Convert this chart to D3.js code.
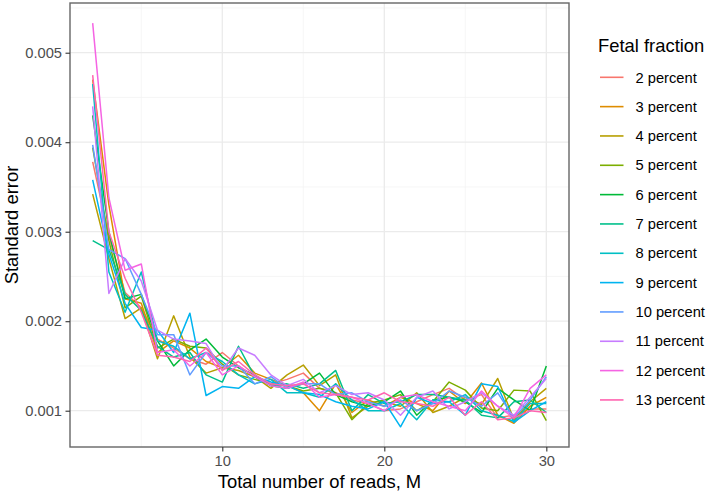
<!DOCTYPE html>
<html><head><meta charset="utf-8">
<script src="https://cdn.jsdelivr.net/npm/d3@7"></script>
<style>body{margin:0;background:#fff;}svg{display:block;font-family:"Liberation Sans",Arial,sans-serif;}</style>
</head><body><svg id="chart" width="709" height="494"></svg>
<script>
const xValues = [2,3,4,5,6,7,8,9,10,11,12,13,14,15,16,17,18,19,20,21,22,23,24,25,26,27,28,29,30];
const seriesNames = ["2 percent","3 percent","4 percent","5 percent","6 percent","7 percent","8 percent","9 percent","10 percent","11 percent","12 percent","13 percent"];
const seriesColors = ["#F8766D","#DE8C00","#B79F00","#7CAE00","#00BA38","#00C08B","#00BFC4","#00B4F0","#619CFF","#C77CFF","#F564E3","#FF64B0"];
const s2  = [0.00378,0.00295,0.00232,0.00215,0.00180,0.00170,0.00158,0.00152,0.00165,0.00150,0.00138,0.00130,0.00135,0.00142,0.00125,0.00120,0.00112,0.00108,0.00100,0.00102,0.00110,0.00118,0.00125,0.00112,0.00118,0.00092,0.00095,0.00102,0.00102];
const s3  = [0.00470,0.00330,0.00225,0.00220,0.00165,0.00178,0.00170,0.00155,0.00148,0.00162,0.00142,0.00135,0.00128,0.00120,0.00100,0.00130,0.00098,0.00112,0.00105,0.00115,0.00108,0.00100,0.00122,0.00108,0.00131,0.00095,0.00086,0.00105,0.00115];
const s4  = [0.00342,0.00270,0.00203,0.00215,0.00158,0.00206,0.00160,0.00142,0.00148,0.00145,0.00138,0.00125,0.00140,0.00151,0.00128,0.00140,0.00092,0.00105,0.00110,0.00105,0.00120,0.00098,0.00105,0.00115,0.00107,0.00136,0.00090,0.00110,0.00125];
const s5  = [0.00394,0.00290,0.00215,0.00228,0.00170,0.00180,0.00172,0.00170,0.00152,0.00140,0.00135,0.00130,0.00128,0.00122,0.00125,0.00120,0.00090,0.00108,0.00112,0.00118,0.00100,0.00110,0.00132,0.00123,0.00103,0.00100,0.00123,0.00122,0.00089];
const s6  = [0.00430,0.00300,0.00225,0.00230,0.00178,0.00150,0.00168,0.00180,0.00160,0.00148,0.00140,0.00128,0.00125,0.00130,0.00142,0.00118,0.00110,0.00105,0.00110,0.00122,0.00095,0.00112,0.00115,0.00110,0.00098,0.00125,0.00112,0.00100,0.00150];
const s7  = [0.00290,0.00280,0.00230,0.00212,0.00172,0.00160,0.00165,0.00140,0.00132,0.00172,0.00138,0.00128,0.00130,0.00125,0.00130,0.00145,0.00100,0.00118,0.00108,0.00110,0.00118,0.00118,0.00115,0.00112,0.00095,0.00092,0.00110,0.00112,0.00098];
const s8  = [0.00465,0.00255,0.00210,0.00255,0.00178,0.00172,0.00158,0.00165,0.00155,0.00140,0.00130,0.00135,0.00120,0.00120,0.00115,0.00130,0.00112,0.00100,0.00100,0.00108,0.00090,0.00112,0.00110,0.00118,0.00100,0.00095,0.00088,0.00108,0.00108];
const s9  = [0.00358,0.00275,0.00220,0.00193,0.00190,0.00165,0.00209,0.00117,0.00127,0.00125,0.00138,0.00132,0.00128,0.00120,0.00118,0.00110,0.00105,0.00102,0.00110,0.00082,0.00115,0.00108,0.00110,0.00095,0.00130,0.00127,0.00087,0.00100,0.00110];
const s10 = [0.00397,0.00280,0.00270,0.00230,0.00185,0.00185,0.00140,0.00165,0.00150,0.00150,0.00130,0.00138,0.00125,0.00130,0.00130,0.00118,0.00120,0.00110,0.00105,0.00112,0.00100,0.00108,0.00122,0.00115,0.00105,0.00120,0.00092,0.00112,0.00138];
const s11 = [0.00440,0.00231,0.00270,0.00245,0.00190,0.00180,0.00178,0.00175,0.00145,0.00170,0.00162,0.00140,0.00128,0.00135,0.00120,0.00128,0.00118,0.00120,0.00112,0.00095,0.00115,0.00122,0.00102,0.00110,0.00120,0.00105,0.00095,0.00115,0.00136];
const s12 = [0.00533,0.00338,0.00257,0.00264,0.00165,0.00168,0.00150,0.00165,0.00140,0.00150,0.00138,0.00128,0.00125,0.00132,0.00115,0.00118,0.00115,0.00108,0.00100,0.00115,0.00118,0.00110,0.00105,0.00100,0.00122,0.00105,0.00092,0.00125,0.00140];
const s13 = [0.00475,0.00300,0.00248,0.00210,0.00162,0.00160,0.00155,0.00170,0.00145,0.00155,0.00140,0.00130,0.00128,0.00130,0.00120,0.00118,0.00115,0.00112,0.00120,0.00110,0.00108,0.00105,0.00115,0.00095,0.00110,0.00090,0.00092,0.00100,0.00098];
const seriesValues = [s2,s3,s4,s5,s6,s7,s8,s9,s10,s11,s12,s13];
const xTicks = [10,20,30];
const xMinor = [5,15,25];
const yTicks = [0.001,0.002,0.003,0.004,0.005];
const yMinor = [0.0015,0.0025,0.0035,0.0045,0.0055];
const xTitle = "Total number of reads, M";
const yTitle = "Standard error";
const legendTitle = "Fetal fraction";

const svg = d3.select("#chart");
const P = {left:70, right:569, top:3, bottom:447};
const allY = seriesValues.flat();
const yMin = d3.min(allY), yMax = d3.max(allY);
const yPad = (yMax - yMin) * 0.05, xPad = (30 - 2) * 0.05;
const x = d3.scaleLinear().domain([2 - xPad, 30 + xPad]).range([P.left, P.right]);
const y = d3.scaleLinear().domain([yMin - yPad, yMax + yPad]).range([P.bottom, P.top]);

const g = svg.append("g");
// minor grid
g.selectAll(".vmin").data(xMinor).join("line").attr("x1",d=>x(d)).attr("x2",d=>x(d)).attr("y1",P.top).attr("y2",P.bottom).attr("stroke","#f2f2f2").attr("stroke-width",0.7);
g.selectAll(".hmin").data(yMinor.filter(v=>y(v)>P.top)).join("line").attr("y1",d=>y(d)).attr("y2",d=>y(d)).attr("x1",P.left).attr("x2",P.right).attr("stroke","#f2f2f2").attr("stroke-width",0.7);
// major grid
g.selectAll(".vmaj").data(xTicks).join("line").attr("x1",d=>x(d)).attr("x2",d=>x(d)).attr("y1",P.top).attr("y2",P.bottom).attr("stroke","#ebebeb").attr("stroke-width",1.3);
g.selectAll(".hmaj").data(yTicks).join("line").attr("y1",d=>y(d)).attr("y2",d=>y(d)).attr("x1",P.left).attr("x2",P.right).attr("stroke","#ebebeb").attr("stroke-width",1.3);

// lines
const line = d3.line().x((d,i)=>x(xValues[i])).y(d=>y(d));
seriesValues.forEach((vals,k)=>{
  g.append("path").attr("d",line(vals)).attr("fill","none").attr("stroke",seriesColors[k]).attr("stroke-width",1.5).attr("stroke-linejoin","round");
});

// border
svg.append("rect").attr("x",P.left).attr("y",P.top).attr("width",P.right-P.left).attr("height",P.bottom-P.top).attr("fill","none").attr("stroke","#666").attr("stroke-width",1.4);

// axes
const xAxis = svg.append("g").attr("transform",`translate(0,${P.bottom})`)
  .call(d3.axisBottom(x).tickValues(xTicks).tickSize(4.5).tickPadding(4).tickFormat(d3.format("d")));
const yAxis = svg.append("g").attr("transform",`translate(${P.left},0)`)
  .call(d3.axisLeft(y).tickValues(yTicks).tickSize(4.5).tickPadding(3.5).tickFormat(d3.format(".3f")));
[xAxis,yAxis].forEach(a=>{
  a.select(".domain").remove();
  a.selectAll(".tick line").attr("stroke","#333").attr("stroke-width",1.1);
  a.selectAll(".tick text").attr("fill","#4d4d4d").style("font-size","14.7px").style("font-family","Liberation Sans, Arial, sans-serif");
});

svg.append("text").attr("x",(P.left+P.right)/2).attr("y",488).attr("text-anchor","middle").style("font-size","18.4px").attr("fill","#000").text(xTitle);
svg.append("text").attr("transform",`translate(18,${(P.top+P.bottom)/2}) rotate(-90)`).attr("text-anchor","middle").style("font-size","18.4px").attr("fill","#000").text(yTitle);

// legend
const lg = svg.append("g");
lg.append("text").attr("x",598).attr("y",51.5).style("font-size","18.4px").attr("fill","#000").text(legendTitle);
seriesNames.forEach((name,i)=>{
  const cy = 77.3 + i*29.33;
  lg.append("line").attr("x1",600).attr("x2",623.5).attr("y1",cy).attr("y2",cy).attr("stroke",seriesColors[i]).attr("stroke-width",1.6);
  lg.append("text").attr("x",635.5).attr("y",cy+5.2).style("font-size","14.7px").attr("fill","#000").text(name);
});
</script></body></html>
